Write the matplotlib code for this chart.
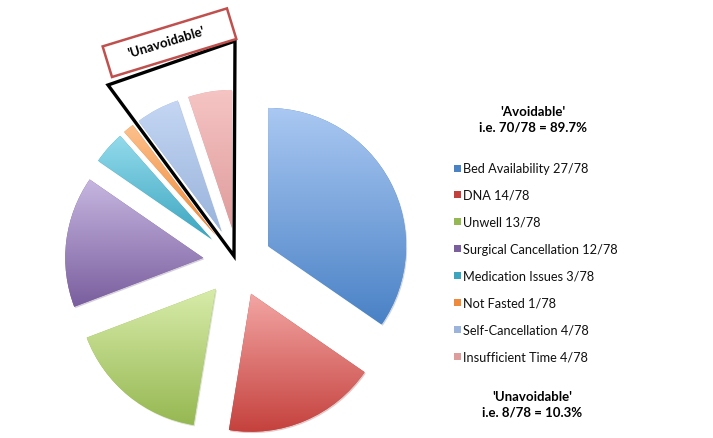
import matplotlib
matplotlib.use("Agg")
import matplotlib.pyplot as plt
import numpy as np
from matplotlib.colors import to_rgb
from matplotlib.patches import Polygon, Rectangle

plt.rcParams['font.family'] = ['Lato', 'DejaVu Sans']

# data
causes = ['Bed Availability', 'DNA', 'Unwell', 'Surgical Cancellation',
          'Medication Issues', 'Not Fasted', 'Self-Cancellation', 'Insufficient Time']
counts = [27, 14, 13, 12, 3, 1, 4, 4]
total = 78
avoidable = 70
unavoidable = 8

# top (light) and bottom (dark) colours of each slice gradient
light = ['#aac8f2', '#f3a6a4', '#d8ecaa', '#c6b6e0', '#94dbec', '#fcc08c', '#c4d6f3', '#f6c4c4']
dark = ['#4a82c6', '#c4403c', '#96b852', '#7a5e9e', '#3ca6c0', '#ef8a3a', '#9ab4dc', '#df9c9c']

fig = plt.figure(figsize=(7.13, 4.39), dpi=100)
ax = fig.add_axes([0, 0, 1, 1])

# pie drawn in pixel-like data units, so explode is an absolute offset
radius = 138
wedges, _ = ax.pie(counts, center=(237.5, 176), radius=radius, startangle=90,
                   counterclock=False, explode=[0.25 * radius] * len(counts),
                   colors=dark, frame=True,
                   shadow={'ox': 0.8, 'oy': -1.0, 'shade': 0.3, 'alpha': 0.25},
                   wedgeprops={'linewidth': 0})

# vertical gradient inside each slice
for w, c_top, c_bot in zip(wedges, light, dark):
    verts = w.get_path().vertices
    x0, y0 = verts.min(axis=0)
    x1, y1 = verts.max(axis=0)
    t = np.linspace(0, 1, 128)[:, None]
    grad = (1 - t) * np.array(to_rgb(c_bot)) + t * np.array(to_rgb(c_top))
    im = ax.imshow(grad[:, None, :], extent=[x0, x1, y0, y1], origin='lower',
                   aspect='auto', interpolation='bilinear', zorder=w.get_zorder() + 0.1)
    im.set_clip_path(w)

# 'Unavoidable' callout: triangle around the last two slices plus the label box
tri = Polygon([(234, 182), (108, 353), (235, 397)], closed=True, fill=False,
              edgecolor='black', linewidth=2.4, zorder=5)
ax.add_patch(tri)
box = Rectangle((112, 361), 130, 32, angle=17, rotation_point='xy', fill=False,
                edgecolor='#c0504d', linewidth=1.8, zorder=5)
ax.add_patch(box)
ax.text(166, 397, "'Unavoidable'", rotation=17, ha='center', va='center',
        fontsize=9.5, fontweight='bold', rotation_mode='anchor', zorder=6)

# legend
ys = 270 - 26.9 * np.arange(len(causes))
for y, name, n, c_top, c_bot in zip(ys, causes, counts, light, dark):
    ax.add_patch(Rectangle((453.5, y - 3.5), 7, 7, facecolor=c_bot, edgecolor='none'))
    ax.text(463, y, f'{name} {n}/{total}', ha='left', va='center', fontsize=9.2,
            color='#111111')

ax.text(533, 327, "'Avoidable'", ha='center', va='center', fontsize=9.5, fontweight='bold')
ax.text(533, 312, f'i.e. {avoidable}/{total} = {100 * avoidable / total:.1f}%',
        ha='center', va='center', fontsize=9.5, fontweight='bold')
ax.text(532, 42, "'Unavoidable'", ha='center', va='center', fontsize=9.5, fontweight='bold')
ax.text(532, 26, f'i.e. {unavoidable}/{total} = {100 * unavoidable / total:.1f}%',
        ha='center', va='center', fontsize=9.5, fontweight='bold')

ax.set_xlim(0, 713)
ax.set_ylim(0, 439)
ax.set_aspect('auto')
ax.axis('off')

fig.savefig('out.png', dpi=100)
